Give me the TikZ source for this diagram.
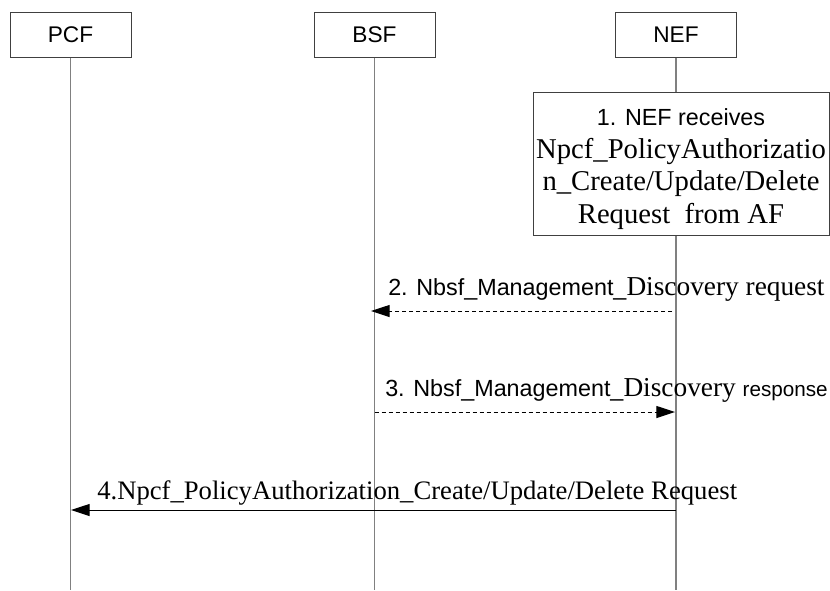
\documentclass[tikz,border=0pt]{standalone}
\usepackage{fontspec}
\setmainfont{Liberation Serif}
\newfontfamily\sansf{Liberation Sans}
\usetikzlibrary{arrows.meta}

\begin{document}
\begin{tikzpicture}[x=0.75pt, y=-0.75pt,
        box/.style={draw=black!75, line width=0.75pt, fill=white, inner sep=0pt,
            minimum width=90.75pt, minimum height=33.75pt,
            font=\sansf\fontsize{17}{20}\selectfont},
        life/.style={draw=black!50, line width=1pt},
        msg/.style={line width=0.75pt, -{Triangle[length=14pt, width=9pt]}},
        dmsg/.style={msg, dash pattern=on 3pt off 2.25pt},
        lbl/.style={anchor=base west, inner sep=0pt}]
        \useasboundingbox (0,0) rectangle (830,590);

        \def\xpcf{70.5}
        \def\xbsf{374.5}
        \def\xnef{676}
        \def\ybot{590}
        \def\sanstxt{\sansf\fontsize{17.5}{21}\selectfont}
        \def\sertxt{\fontsize{20.5}{24}\selectfont}

        % entities and lifelines
        \node[box] (pcf) at (\xpcf,34.5) {PCF};
        \node[box] (bsf) at (\xbsf,34.5) {BSF};
        \node[box] (nef) at (\xnef,34.5) {NEF};

        \coordinate (pcfend) at (\xpcf,\ybot);
        \coordinate (bsfend) at (\xbsf,\ybot);
        \coordinate (nefend) at (\xnef,\ybot);

        \draw[life] (pcf.south) -- (pcfend);
        \draw[life] (bsf.south) -- (bsfend);
        \draw[life] (nef.south) -- (nefend);

        % step 1
        \node[box, minimum width=222pt, minimum height=107.25pt] (recv) at (681,163.5) {};
        \node[align=center, inner sep=0pt, font=\fontsize{21.5}{24.5}\selectfont] (recvtxt) at (681,169)
            {{\sanstxt 1. NEF receives}\\Npcf\_PolicyAuthorizatio\\n\_Create/Update/Delete\\Request\ \ from AF};

        % step 2
        \coordinate (n2) at (672,311);
        \coordinate (b2) at (371,311);
        \draw[dmsg] (n2) -- (b2);
        \node[lbl] (l2) at (388,295) {{\sanstxt 2. Nbsf\_Management\_}{\sertxt Discovery request}};

        % step 3
        \coordinate (b3) at (\xbsf,412);
        \coordinate (n3) at (675,412);
        \draw[dmsg] (b3) -- (n3);
        \node[lbl] (l3) at (385,396) {{\sanstxt 3. Nbsf\_Management\_}{\sertxt Discovery }{\sansf\fontsize{15.5}{18}\selectfont response}};

        % step 4
        \coordinate (n4) at (\xnef,510);
        \coordinate (p4) at (71,510);
        \draw[msg] (n4) -- (p4);
        \node[lbl, font=\fontsize{20}{24}\selectfont] (l4) at (97,499) {4.Npcf\_PolicyAuthorization\_Create/Update/Delete Request};
    \end{tikzpicture}
\end{document}
